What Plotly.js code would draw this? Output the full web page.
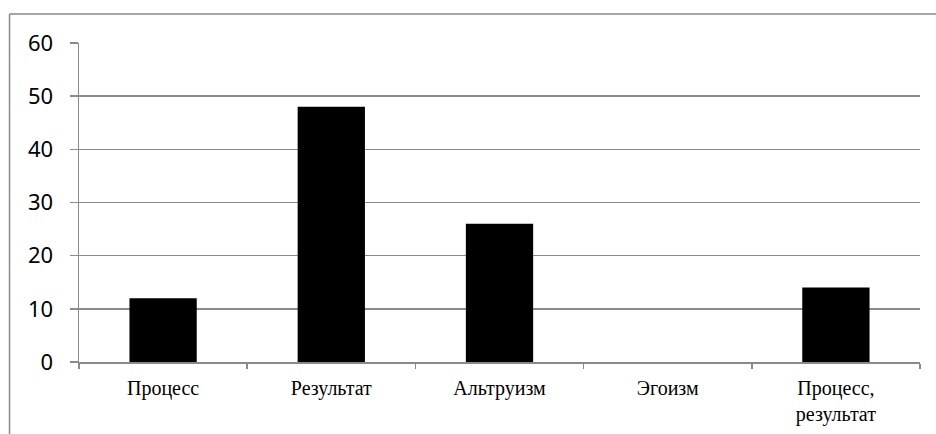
<!DOCTYPE html>
<html>
<head>
<meta charset="utf-8">
<script src="https://cdn.plot.ly/plotly-3.0.1.min.js"></script>
<style>
  html, body { margin: 0; padding: 0; background: #fff; }
  #chart { width: 936px; height: 434px; }
</style>
</head>
<body>
<div id="chart"></div>
<script>
const categories = ["Процесс", "Результат", "Альтруизм", "Эгоизм", "Процесс,<br>результат"];
const values = [12, 48, 26, 0, 14];
const yTicks = [0, 10, 20, 30, 40, 50, 60];

const gray = "#8a8a8a";

const trace = {
  type: "bar",
  x: categories,
  y: values,
  marker: { color: "#000000", line: { width: 0 } },
  hoverinfo: "x+y"
};

const layout = {
  width: 936,
  height: 434,
  margin: { l: 79, r: 16, t: 43, b: 72 },
  paper_bgcolor: "#ffffff",
  plot_bgcolor: "#ffffff",
  bargap: 0.6,
  showlegend: false,
  xaxis: {
    type: "category",
    tickson: "boundaries",
    ticks: "outside",
    ticklen: 5,
    tickwidth: 1.5,
    tickcolor: gray,
    showline: true,
    linecolor: gray,
    linewidth: 1.5,
    showgrid: false,
    tickfont: { family: "'Liberation Serif', 'Times New Roman', serif", size: 20, color: "#000" },
    ticklabelstandoff: 7
  },
  yaxis: {
    range: [0, 60],
    tickvals: yTicks,
    ticktext: yTicks.map(String),
    ticks: "outside",
    ticklen: 8,
    tickwidth: 1.5,
    tickcolor: gray,
    showline: true,
    linecolor: gray,
    linewidth: 1.5,
    showgrid: true,
    gridcolor: gray,
    gridwidth: 1.5,
    zeroline: false,
    tickfont: { family: "'Noto Sans', 'Open Sans', sans-serif", size: 22, color: "#000" },
    ticklabelstandoff: 12
  },
  shapes: [
    { type: "line", xref: "paper", yref: "paper", x0: -0.0826, x1: -0.0826, y0: 1.0909, y1: -0.3, line: { color: gray, width: 1.5 } },
    { type: "line", xref: "paper", yref: "paper", x0: -0.0826, x1: 1.1, y0: 1.0909, y1: 1.0909, line: { color: gray, width: 1.5 } }
  ]
};

Plotly.newPlot("chart", [trace], layout, { displayModeBar: false, staticPlot: true });
</script>
</body>
</html>
